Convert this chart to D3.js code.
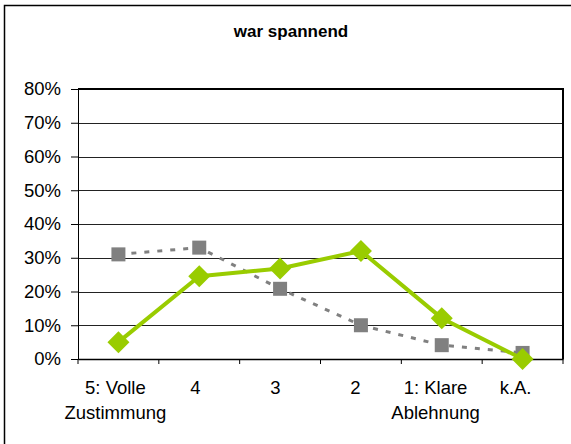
<!DOCTYPE html>
<html>
<head>
<meta charset="utf-8">
<script src="https://cdn.jsdelivr.net/npm/d3@7"></script>
<style>
  body { margin: 0; background: #fff; }
  svg { display: block; font-family: "Liberation Sans", Arial, sans-serif; }
</style>
</head>
<body>
<svg id="chart" width="571" height="444"></svg>
<script>
// chart data
const categories = ["5: Volle\nZustimmung", "4", "3", "2", "1: Klare\nAblehnung", "k.A."];
const seriesGray = [31, 33, 20.8, 10, 4.1, 1.8];
const seriesGreen = [5, 24.5, 26.8, 32, 12.1, 0];
const yTicks = [0, 10, 20, 30, 40, 50, 60, 70, 80];

const svg = d3.select("#chart");
const m = { left: 78, right: 563, top: 89, bottom: 359 };

// outer border (cut off at the right and bottom)
svg.append("rect")
  .attr("x", 4.5).attr("y", 5.5)
  .attr("width", 700).attr("height", 600)
  .attr("fill", "none").attr("stroke", "#000").attr("stroke-width", 1.5);

svg.append("text")
  .attr("x", 291).attr("y", 37)
  .attr("text-anchor", "middle")
  .style("font-weight", "bold").style("font-size", "17px")
  .text("war spannend");

const x = d3.scaleBand().domain(d3.range(categories.length)).range([m.left, m.right]);
const y = d3.scaleLinear().domain([0, 80]).range([m.bottom, m.top]);
const cx = i => x(i) + x.bandwidth() / 2;

// gridlines
svg.append("g").selectAll("line")
  .data(yTicks.slice(1, -1))
  .join("line")
  .attr("x1", m.left).attr("x2", m.right)
  .attr("y1", d => Math.round(y(d)) + 0.5).attr("y2", d => Math.round(y(d)) + 0.5)
  .attr("stroke", "#222").attr("stroke-width", 1);

// plot frame top/right
svg.append("path")
  .attr("d", `M${m.left},${m.top} H${m.right} V${m.bottom}`)
  .attr("fill", "none").attr("stroke", "#000").attr("stroke-width", 2);

// y axis
const yAxis = svg.append("g")
  .attr("transform", `translate(${m.left},0)`)
  .call(d3.axisLeft(y).tickValues(yTicks).tickSize(7).tickPadding(10).tickFormat(d => d + "%"));
yAxis.selectAll("text").style("font-size", "18.5px").attr("fill", "#000");
yAxis.selectAll("line, path").attr("stroke", "#000");

// x axis
const xAxis = svg.append("g")
  .attr("transform", `translate(0,${m.bottom})`)
  .call(d3.axisBottom(x).tickSize(0).tickFormat(""));
xAxis.select("path").attr("stroke", "#000").attr("stroke-width", 1.5);
xAxis.selectAll(".tick").remove();

svg.append("g").selectAll("line")
  .data(d3.range(categories.length + 1))
  .join("line")
  .attr("x1", i => i < categories.length ? x(i) : m.right)
  .attr("x2", i => i < categories.length ? x(i) : m.right)
  .attr("y1", m.bottom).attr("y2", m.bottom + 5)
  .attr("stroke", "#000");

svg.append("g").selectAll("text")
  .data(categories)
  .join("text")
  .attr("x", (d, i) => cx(i) - 3 - i * 0.8)
  .attr("y", 394)
  .attr("text-anchor", "middle")
  .style("font-size", "18.5px")
  .each(function(d) {
    const el = d3.select(this);
    d.split("\n").forEach((t, k) => {
      el.append("tspan")
        .attr("x", el.attr("x"))
        .attr("dy", k === 0 ? 0 : 25)
        .text(t);
    });
  });

// gray dashed series
const line = d3.line().x((d, i) => cx(i)).y(d => y(d));
svg.append("path")
  .datum(seriesGray)
  .attr("d", line)
  .attr("fill", "none")
  .attr("stroke", "#808080").attr("stroke-width", 3)
  .attr("stroke-dasharray", "5,8");

svg.append("g").selectAll("rect")
  .data(seriesGray)
  .join("rect")
  .attr("x", (d, i) => cx(i) - 7)
  .attr("y", d => y(d) - 7)
  .attr("width", 14).attr("height", 14)
  .attr("fill", "#808080");

// green series
svg.append("path")
  .datum(seriesGreen)
  .attr("d", line)
  .attr("fill", "none")
  .attr("stroke", "#99cc00").attr("stroke-width", 4)
  .attr("stroke-linejoin", "round");

svg.append("g").selectAll("path")
  .data(seriesGreen)
  .join("path")
  .attr("d", (d, i) => {
    const px = cx(i), py = y(d), r = 11;
    return `M${px},${py - r} L${px + r},${py} L${px},${py + r} L${px - r},${py} Z`;
  })
  .attr("fill", "#99cc00");
</script>
</body>
</html>
